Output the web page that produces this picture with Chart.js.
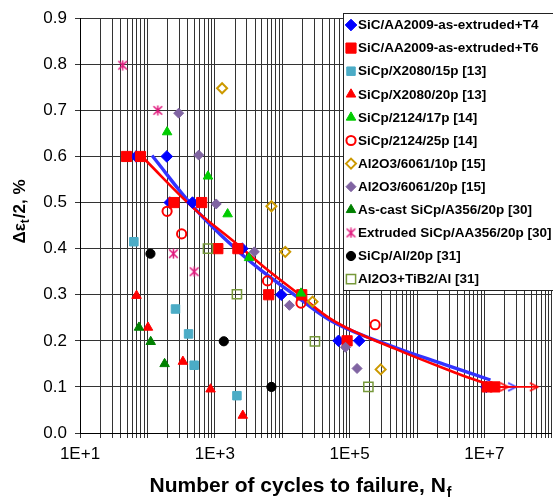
<!DOCTYPE html>
<html>
<head>
<meta charset="utf-8">
<script src="https://cdn.jsdelivr.net/npm/chart.js@4.4.1/dist/chart.umd.min.js"></script>
<style>
html,body{margin:0;padding:0;overflow:hidden;background:#fff;width:553px;height:497px}
canvas{display:block}
</style>
</head>
<body>
<canvas id="c" width="560" height="497"></canvas>
<script>
// ---------- data ----------
const seriesNames = [
  'SiC/AA2009-as-extruded+T4',
  'SiC/AA2009-as-extruded+T6',
  'SiCp/X2080/15p [13]',
  'SiCp/X2080/20p [13]',
  'SiCp/2124/17p [14]',
  'SiCp/2124/25p [14]',
  'Al2O3/6061/10p [15]',
  'Al2O3/6061/20p [15]',
  'As-cast SiCp/A356/20p [30]',
  'Extruded SiCp/AA356/20p [30]',
  'SiCp/Al/20p [31]',
  'Al2O3+TiB2/Al [31]'
];

const t4X = [68, 194, 215, 467, 2560, 9700, 68500, 139000, 1.07e7];
const t4Y = [0.6, 0.6, 0.5, 0.5, 0.4, 0.3, 0.2, 0.2, 0.1];

const t6X = [49, 79, 248, 638, 1109, 2200, 6300, 19500, 91800, 1.1e7, 1.43e7];
const t6Y = [0.6, 0.6, 0.5, 0.5, 0.4, 0.4, 0.3, 0.3, 0.2, 0.1, 0.1];

const x2080p15X = [63, 261, 408, 494, 2130];
const x2080p15Y = [0.415, 0.269, 0.215, 0.147, 0.081];

const x2080p20X = [69, 102, 336, 865, 2600];
const x2080p20Y = [0.298, 0.229, 0.155, 0.095, 0.038];

const s2124p17X = [196, 792, 1550, 3220, 19000];
const s2124p17Y = [0.653, 0.557, 0.475, 0.380, 0.303];

const s2124p25X = [196, 322, 6050, 19000, 239000];
const s2124p25Y = [0.481, 0.432, 0.330, 0.282, 0.235];

const al6061p10X = [1283, 6920, 11100, 28200, 289000];
const al6061p10Y = [0.748, 0.492, 0.393, 0.285, 0.138];

const al6061p20X = [291, 577, 1050, 3860, 12800, 86900, 129000];
const al6061p20Y = [0.694, 0.603, 0.497, 0.393, 0.277, 0.186, 0.140];

const asCastX = [75, 112, 180];
const asCastY = [0.229, 0.198, 0.150];

const extrudedX = [43, 143, 243, 494];
const extrudedY = [0.798, 0.700, 0.389, 0.350];

const sicAlX = [111, 1360, 6920];
const sicAlY = [0.389, 0.199, 0.100];

const tib2X = [792, 2130, 30600, 190000];
const tib2Y = [0.400, 0.301, 0.199, 0.100];

// fitted curves
const blueFitX = [117, 499, 2128, 5853, 16090, 61960, 468300, 2.53e6, 1.23e7];
const blueFitY = [0.602, 0.488, 0.397, 0.344, 0.297, 0.238, 0.186, 0.149, 0.115];
const redFitX  = [89.5, 483, 2128, 5853, 16090, 61960, 468300, 3.54e6, 9.73e6];
const redFitY  = [0.595, 0.488, 0.410, 0.356, 0.306, 0.241, 0.183, 0.132, 0.109];

// run-out arrows
const blueArrowX = [1.07e7, 2.95e7];
const blueArrowY = [0.1, 0.1];
const redArrow1X = [1.1e7, 2.26e7];
const redArrow1Y = [0.1, 0.1];
const redArrow2X = [1.43e7, 6.2e7];
const redArrow2Y = [0.1, 0.1];

// axes
const xDecades = [1, 2, 3, 4, 5, 6, 7];
const xMultipliers = [1, 2, 3, 4, 5, 6, 7, 8, 9];
const xLabelValues = [10, 1000, 100000, 10000000];
const xTickLabels = ['1E+1', '1E+3', '1E+5', '1E+7'];
const yTickValues = [0, 0.1, 0.2, 0.3, 0.4, 0.5, 0.6, 0.7, 0.8, 0.9];
const yTickLabels = ['0.0', '0.1', '0.2', '0.3', '0.4', '0.5', '0.6', '0.7', '0.8', '0.9'];

const xTitleMain = 'Number of cycles to failure, N';
const xTitleSub = 'f';
const yTitleA = '\u0394\u03b5';
const yTitleSub = 't';
const yTitleB = '/2, %';

// ---------- helpers ----------
const FF = "'Liberation Sans', Arial, Helvetica, sans-serif";
const pts = (xs, ys) => xs.map((x, i) => ({x: x, y: ys[i]}));

function makeStar(color) {
  const c = document.createElement('canvas');
  c.width = 11; c.height = 11;
  const g = c.getContext('2d');
  g.strokeStyle = color; g.lineWidth = 1.5; g.lineCap = 'butt';
  g.beginPath();
  g.moveTo(5.5, 0.5); g.lineTo(5.5, 10.5);
  g.moveTo(1.2, 1.2); g.lineTo(9.8, 9.8);
  g.moveTo(9.8, 1.2); g.lineTo(1.2, 9.8);
  g.stroke();
  return c;
}
function makeArrow(color) {
  const c = document.createElement('canvas');
  c.width = 20; c.height = 11;
  const g = c.getContext('2d');
  g.strokeStyle = color; g.lineWidth = 1.6;
  g.beginPath();
  g.moveTo(2, 1.5); g.lineTo(10, 5.5); g.lineTo(2, 9.5);
  g.stroke();
  return c;
}
const starImg = makeStar('#E0197D');
const arrowRed = makeArrow('#FF0000');
const arrowBlue = makeArrow('#3333FF');

const seriesData = [
  pts(t4X, t4Y), pts(t6X, t6Y), pts(x2080p15X, x2080p15Y), pts(x2080p20X, x2080p20Y),
  pts(s2124p17X, s2124p17Y), pts(s2124p25X, s2124p25Y), pts(al6061p10X, al6061p10Y),
  pts(al6061p20X, al6061p20Y), pts(asCastX, asCastY), pts(extrudedX, extrudedY),
  pts(sicAlX, sicAlY), pts(tib2X, tib2Y)
];
const NONE = 'rgba(0,0,0,0)';
const seriesStyles = [
  {ps: 'rectRot', r: 5.8, fill: '#0000FF', stroke: '#0000FF', bw: 1},
  {ps: 'rect', r: 7.2, fill: '#FF0000', stroke: '#FF0000', bw: 1},
  {ps: 'rect', r: 6, fill: '#4BACC6', stroke: '#4BACC6', bw: 1},
  {ps: 'triangle', r: 5.5, fill: '#FF0000', stroke: '#FF0000', bw: 1},
  {ps: 'triangle', r: 5.5, fill: '#00CC00', stroke: '#00CC00', bw: 1},
  {ps: 'circle', r: 4.6, fill: NONE, stroke: '#FF0000', bw: 2},
  {ps: 'rectRot', r: 5, fill: NONE, stroke: '#CC9900', bw: 2},
  {ps: 'rectRot', r: 5, fill: '#8064A2', stroke: '#8064A2', bw: 1},
  {ps: 'triangle', r: 5.5, fill: '#008000', stroke: '#008000', bw: 1},
  {ps: starImg, r: 5, fill: NONE, stroke: '#E0197D', bw: 1},
  {ps: 'circle', r: 4.6, fill: '#000000', stroke: '#000000', bw: 1},
  {ps: 'rect', r: 6.5, fill: NONE, stroke: '#77993A', bw: 1.5}
];

const datasets = [];
seriesNames.forEach((name, i) => {
  const s = seriesStyles[i];
  datasets.push({
    label: name, data: seriesData[i], showLine: false,
    pointStyle: s.ps, pointRadius: s.r, pointBackgroundColor: s.fill,
    pointBorderColor: s.stroke, pointBorderWidth: s.bw, order: 100 - i
  });
});
// fit lines (below markers)
datasets.push({label: 'fitRed', data: pts(redFitX, redFitY), showLine: true, pointRadius: 0,
  borderColor: '#FF0000', borderWidth: 2.6, tension: 0.4, order: 200});
datasets.push({label: 'fitBlue', data: pts(blueFitX, blueFitY), showLine: true, pointRadius: 0,
  borderColor: '#3333FF', borderWidth: 3.4, tension: 0.4, order: 201});
// arrows
datasets.push({label: 'arrRed2', data: pts(redArrow2X, redArrow2Y), showLine: true,
  borderColor: '#FF0000', borderWidth: 1.6, pointStyle: [arrowRed, arrowRed], pointRadius: [0, 5], order: 150});
datasets.push({label: 'arrRed1', data: pts(redArrow1X, redArrow1Y), showLine: true,
  borderColor: '#FF0000', borderWidth: 1.6, pointStyle: [arrowRed, arrowRed], pointRadius: [0, 5], order: 151});
datasets.push({label: 'arrBlue', data: pts(blueArrowX, blueArrowY), showLine: true,
  borderColor: '#3333FF', borderWidth: 1.6, pointStyle: [arrowBlue, arrowBlue], pointRadius: [0, 5], order: 152});

const xGridValues = [];
xDecades.forEach(d => xMultipliers.forEach(m => xGridValues.push(m * Math.pow(10, d))));
xGridValues.push(Math.pow(10, 8));

// ---------- plugins ----------
const legendPlugin = {
  id: 'customLegend',
  afterDraw(chart) {
    const ctx = chart.ctx;
    ctx.save();
    ctx.fillStyle = '#FFFFFF';
    ctx.fillRect(343, 13, 240, 278);
    ctx.strokeStyle = '#222';
    ctx.lineWidth = 1;
    ctx.strokeRect(343.5, 13.5, 240, 277);
    ctx.font = 'bold 13.5px ' + FF;
    ctx.textBaseline = 'middle';
    ctx.textAlign = 'left';
    seriesNames.forEach((name, i) => {
      const y = 25 + i * 23.1;
      const s = seriesStyles[i];
      ctx.save();
      ctx.fillStyle = s.fill; ctx.strokeStyle = s.stroke; ctx.lineWidth = s.bw;
      Chart.helpers.drawPoint(ctx, {pointStyle: s.ps, radius: s.r, rotation: 0, borderWidth: s.bw}, 351, y);
      ctx.restore();
      ctx.fillStyle = '#000';
      ctx.fillText(name, 358, y + 0.5);
    });
    ctx.restore();
  }
};
const titlePlugin = {
  id: 'axisTitles',
  afterDraw(chart) {
    const ctx = chart.ctx;
    ctx.save();
    ctx.fillStyle = '#000';
    ctx.textAlign = 'left';
    ctx.textBaseline = 'alphabetic';
    // x title
    const fMain = 'bold 21px ' + FF, fSub = 'bold 14px ' + FF;
    ctx.font = fMain; const w1 = ctx.measureText(xTitleMain).width;
    ctx.font = fSub; const w2 = ctx.measureText(xTitleSub).width;
    const x0 = 300.5 - (w1 + w2 + 1) / 2;
    ctx.font = fMain; ctx.fillText(xTitleMain, x0, 492);
    ctx.font = fSub; ctx.fillText(xTitleSub, x0 + w1 + 1, 497);
    // y title (rotated)
    const yMain = 'bold 17px ' + FF, ySub = 'bold 12px ' + FF;
    ctx.font = yMain; const a = ctx.measureText(yTitleA).width; const b = ctx.measureText(yTitleB).width;
    ctx.font = ySub; const s = ctx.measureText(yTitleSub).width;
    const total = a + s + b + 1;
    ctx.translate(25, 211.5);
    ctx.rotate(-Math.PI / 2);
    let tx = -total / 2;
    ctx.font = yMain; ctx.fillText(yTitleA, tx, 0); tx += a;
    ctx.font = ySub; ctx.fillText(yTitleSub, tx, 4); tx += s + 1;
    ctx.font = yMain; ctx.fillText(yTitleB, tx, 0);
    ctx.restore();
  }
};

// ---------- chart ----------
new Chart(document.getElementById('c'), {
  type: 'scatter',
  data: {datasets: datasets},
  options: {
    responsive: false,
    animation: false,
    devicePixelRatio: 1,
    layout: {padding: {left: 0, right: 1, top: 14, bottom: 0}},
    plugins: {legend: {display: false}, tooltip: {enabled: false}, title: {display: false}},
    scales: {
      x: {
        type: 'logarithmic', position: 'bottom', min: 10, max: 1e8,
        afterBuildTicks: (s) => { s.ticks = xGridValues.map(v => ({value: v})); },
        afterFit: (s) => { s.height = 64; },
        ticks: {
          autoSkip: false, maxRotation: 0, minRotation: 0, padding: 6, color: '#000',
          font: {family: FF, size: 17},
          callback: (v) => { const k = xLabelValues.indexOf(v); return k >= 0 ? xTickLabels[k] : ''; }
        },
        grid: {color: '#333', lineWidth: 1, tickLength: 5, drawTicks: true},
        border: {color: '#000', width: 1}
      },
      y: {
        type: 'linear', position: 'left', min: 0, max: 0.9,
        afterBuildTicks: (s) => { s.ticks = yTickValues.map(v => ({value: v})); },
        afterFit: (s) => { s.width = 80; },
        ticks: {
          padding: 8, color: '#000', font: {family: FF, size: 17},
          callback: (v, i) => yTickLabels[i]
        },
        grid: {color: '#333', lineWidth: 1, tickLength: 5, drawTicks: true},
        border: {color: '#000', width: 1}
      }
    }
  },
  plugins: [legendPlugin, titlePlugin]
});
</script>
</body>
</html>
